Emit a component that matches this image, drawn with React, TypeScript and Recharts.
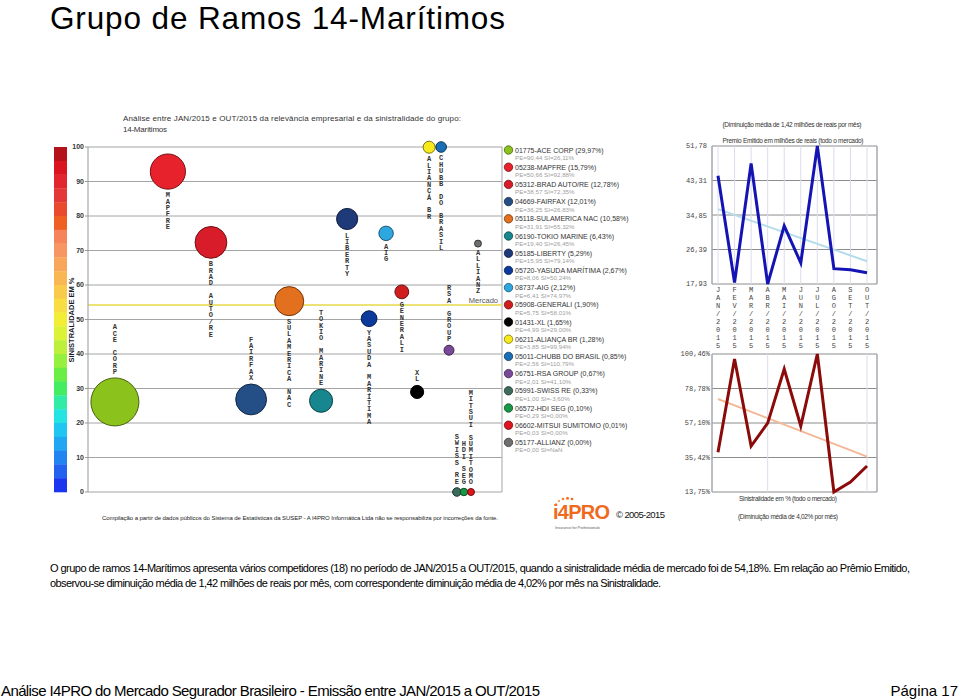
import React from 'react';
import {
  ScatterChart, Scatter, XAxis, YAxis, ZAxis, CartesianGrid, ReferenceLine,
  LineChart, Line,
} from 'recharts';

const SANS = "'Liberation Sans', Arial, Helvetica, sans-serif";
const MONO = "'Liberation Mono', 'Courier New', monospace";

// ---------- Bubble chart data (companies) ----------
const codigos = ['01775', '05238', '05312', '04669', '05118', '06190', '05185', '05720', '08737', '05908', '01431', '06211', '05011', '06751', '05991', '06572', '06602', '05177'];
const empresas = ['ACE CORP', 'MAPFRE', 'BRAD AUTO/RE', 'FAIRFAX', 'SULAMERICA NAC', 'TOKIO MARINE', 'LIBERTY', 'YASUDA MARÍTIMA', 'AIG', 'GENERALI', 'XL', 'ALIANÇA BR', 'CHUBB DO BRASIL', 'RSA GROUP', 'SWISS RE', 'HDI SEG', 'MITSUI SUMITOMO', 'ALLIANZ'];
const participacao = [29.97, 15.79, 12.78, 12.01, 10.58, 6.43, 5.29, 2.67, 2.12, 1.90, 1.65, 1.28, 0.85, 0.67, 0.33, 0.10, 0.01, 0.00];
const premioEmpresa = [90.44, 50.66, 38.57, 36.25, 31.91, 19.40, 15.95, 8.06, 6.41, 5.75, 4.99, 3.85, 2.56, 2.01, 1.00, 0.29, 0.03, 0.00];
const sinistralidadeEmpresa = [26.11, 92.88, 72.35, 26.83, 55.32, 26.45, 79.14, 50.24, 74.97, 58.01, 29.00, 99.94, 110.79, 41.10, -3.60, 0.00, 0.00, NaN];
const ordemX = [6.5, 19.3, 29.7, 39.4, 48.6, 56.3, 62.6, 67.9, 72.0, 75.8, 79.5, 82.4, 85.3, 87.2, 89.1, 90.8, 92.5, 94.2];
const coresEmpresa = ['#8cc21c', '#e8222c', '#d91c2a', '#234e86', '#e2701e', '#17868e', '#1e3a78', '#0c3a9c', '#2ea6e0', '#d01e1e', '#000000', '#f6ea1c', '#1a6eb6', '#7a4898', '#3d6b5c', '#179846', '#e0141e', '#6e6e6e'];
const rotuloAcima = [true, false, false, true, false, true, false, false, false, false, true, false, false, true, true, true, true, false];
const sinistralidadeMercado = 54.18;
const valorSemDado = 72;
const ticksSinistralidade = [0, 10, 20, 30, 40, 50, 60, 70, 80, 90, 100];
const escalaCores = ['#b3121b', '#d9161f', '#e2262f', '#e43838', '#e94a2e', '#ef5f22', '#f5845a', '#f79662', '#f8a75a', '#f8b752', '#f9cb4a', '#f8de42', '#f2ee36', '#dcf236', '#bcf03a', '#96f040', '#68ee44', '#44ec62', '#32eca6', '#24e4e2', '#20c6f2', '#20a6f2', '#2284f0', '#2262ee', '#1a36ee'];

// ---------- Monthly market data ----------
const meses = ['JAN/2015', 'FEV/2015', 'MAR/2015', 'ABR/2015', 'MAI/2015', 'JUN/2015', 'JUL/2015', 'AGO/2015', 'SET/2015', 'OUT/2015'];
const premioMensal = [44.5, 18.3, 47.5, 17.93, 32.2, 23.1, 51.78, 21.7, 21.4, 20.7];
const tendenciaPremio = [36.3, null, null, null, null, null, null, null, null, 23.52];
const ticksPremio = [17.93, 26.39, 34.85, 43.31, 51.78];
const sinistralidadeMensal = [38.7, 97.3, 42.6, 57.0, 91.0, 55.2, 100.46, 13.75, 20.0, 30.1];
const tendenciaSinistralidade = [72.2, null, null, null, null, null, null, null, null, 36.0];
const ticksSinistralidadeMensal = [13.75, 35.42, 57.10, 78.78, 100.46];

const fmt = (v: number) => (Number.isNaN(v) ? 'NaN' : v.toFixed(2).replace('.', ','));

function escurecer(hex: string, f = 0.5) {
  const n = parseInt(hex.slice(1), 16);
  const r = Math.round(((n >> 16) & 255) * f);
  const g = Math.round(((n >> 8) & 255) * f);
  const b = Math.round((n & 255) * f);
  return `rgb(${r},${g},${b})`;
}

const dadosBolhas = empresas.map((nome, i) => {
  const s = sinistralidadeEmpresa[i];
  return {
    nome,
    x: ordemX[i],
    y: Number.isNaN(s) ? valorSemDado : Math.min(100, Math.max(0, s)),
    participacao: participacao[i],
    cor: coresEmpresa[i],
    acima: rotuloAcima[i],
  };
});

const dadosPremio = meses.map((mes, i) => ({ mes, valor: premioMensal[i], tendencia: tendenciaPremio[i] }));
const dadosSinistro = meses.map((mes, i) => ({ mes, valor: sinistralidadeMensal[i], tendencia: tendenciaSinistralidade[i] }));

function Bolha(props: any) {
  const { cx, cy, payload } = props;
  if (!Number.isFinite(cx) || !Number.isFinite(cy)) return <g />;
  const area = Number.isFinite(props.size) ? props.size : 64;
  const r = Math.sqrt(area / Math.PI);
  const chars: string[] = Array.from(String(payload.nome));
  const step = 6.4;
  const start = payload.acima ? cy - r - 4 - (chars.length - 1) * step : cy + r + 8;
  return (
    <g>
      <circle cx={cx} cy={cy} r={r} fill={payload.cor} stroke={escurecer(payload.cor)} strokeWidth={1} />
      {chars.map((c, i) =>
        c === ' ' ? null : (
          <text key={i} x={cx} y={start + i * step} textAnchor="middle" fontFamily={MONO} fontWeight="bold" fontSize={7} fill="#333">
            {c}
          </text>
        ),
      )}
    </g>
  );
}

function TickMes(props: any) {
  const { x, y, payload } = props;
  const chars: string[] = Array.from(String(payload.value));
  return (
    <g>
      {chars.map((c, i) => (
        <text key={i} x={x} y={y + 8 + i * 8} textAnchor="middle" fontFamily={MONO} fontSize={7} fill="#444">
          {c}
        </text>
      ))}
    </g>
  );
}

function MercadoLabel(props: any) {
  const vb = props.viewBox || {};
  return (
    <text x={vb.x + vb.width - 4} y={vb.y - 2} textAnchor="end" fontFamily={SANS} fontSize={7.5} fill="#555">
      Mercado
    </text>
  );
}

export default function App() {
  const barTop = 147;
  const barH = 345 / escalaCores.length;
  return (
    <div style={{ position: 'absolute', left: 0, top: 0, width: 960, height: 700, background: '#fff', overflow: 'hidden' }}>
      <svg width={960} height={700} style={{ position: 'absolute', left: 0, top: 0 }} fontFamily={SANS}>
        <text x={50} y={29} fontSize={31.5} textLength={455} fill="#000">Grupo de Ramos 14-Marítimos</text>

        <text x={123} y={121} fontSize={8} textLength={338} fill="#333">
          Análise entre JAN/2015 e OUT/2015 da relevância empresarial e da sinistralidade do grupo:
        </text>
        <text x={123} y={132} fontSize={8} textLength={44} fill="#333">14-Marítimos</text>

        {escalaCores.map((c, i) => (
          <rect key={i} x={54} y={barTop + i * barH} width={13} height={barH + 0.3} fill={c} />
        ))}
        <text transform="rotate(-90 74 320)" x={74} y={320} textAnchor="middle" fontWeight="bold" fontSize={7.5} fill="#1a1a2a">
          SINISTRALIDADE EM %
        </text>

        <text x={102} y={520} fontSize={6} textLength={396} fill="#222">
          Compilação a partir de dados públicos do Sistema de Estatísticas da SUSEP - A I4PRO Informática Ltda não se responsabiliza por incorreções da fonte.
        </text>

        {empresas.map((nome, i) => {
          const cy = 150 + i * 17.2;
          return (
            <g key={nome}>
              <circle cx={508.5} cy={cy} r={4.2} fill={coresEmpresa[i]} stroke={escurecer(coresEmpresa[i])} strokeWidth={0.8} />
              <text x={515} y={cy + 2.5} fontSize={7} fill="#333">
                {`${codigos[i]}-${nome} (${fmt(participacao[i])}%)`}
              </text>
              <text x={515} y={cy + 10} fontSize={6.2} fill="#a0a0a0">
                {`PE=${fmt(premioEmpresa[i])} SI=${fmt(sinistralidadeEmpresa[i])}${Number.isNaN(sinistralidadeEmpresa[i]) ? '' : '%'}`}
              </text>
            </g>
          );
        })}

        <text x={792} y={127} textAnchor="middle" fontSize={6.5} textLength={139} fill="#333">
          (Diminuição média de 1,42 milhões de reais por mês)
        </text>
        <text x={793} y={143} textAnchor="middle" fontSize={6.5} textLength={141} fill="#333">
          Premio Emitido em milhões de reais (todo o mercado)
        </text>
        <text x={788} y={501} textAnchor="middle" fontSize={6.5} textLength={98} fill="#333">
          Sinistralidade em % (todo o mercado)
        </text>
        <text x={788} y={519} textAnchor="middle" fontSize={6.5} textLength={100} fill="#333">
          (Diminuição média de 4,02% por mês)
        </text>

        <circle cx={556} cy={504} r={0.9} fill="#f7a04a" />
        <circle cx={559} cy={501} r={1.1} fill="#f5923c" />
        <circle cx={563} cy={499} r={1.3} fill="#f3842e" />
        <circle cx={567.5} cy={498.3} r={1.5} fill="#f17424" />
        <circle cx={572} cy={499} r={1.3} fill="#f06a1e" />
        <text x={553} y={519} fontSize={20} fontWeight={900} textLength={57} fill="#f06a1e">i4PRO</text>
        <text x={555} y={528.5} fontSize={4} textLength={45} fill="#666">Insurance for Professionals</text>
        <text x={616} y={518} fontSize={9.5} textLength={49} fill="#111">© 2005-2015</text>

        <text x={50} y={572} fontSize={11} textLength={860} fill="#000">
          O grupo de ramos 14-Marítimos apresenta vários competidores (18) no período de JAN/2015 a OUT/2015, quando a sinistralidade média de mercado foi de 54,18%. Em relação ao Prêmio Emitido,
        </text>
        <text x={50} y={587} fontSize={11} textLength={611} fill="#000">
          observou-se diminuição média de 1,42 milhões de reais por mês, com correspondente diminuição média de 4,02% por mês na Sinistralidade.
        </text>

        <text x={1} y={696} fontSize={15} textLength={539} fill="#000">
          Análise I4PRO do Mercado Segurador Brasileiro - Emissão entre JAN/2015 a OUT/2015
        </text>
        <text x={958} y={696} fontSize={15} textAnchor="end" fill="#000">Página 17</text>
      </svg>

      <div style={{ position: 'absolute', left: 0, top: 0 }}>
        <ScatterChart width={520} height={540} margin={{ top: 147, right: 18, bottom: 48, left: 48 }}>
          <CartesianGrid horizontal vertical={false} stroke="#a4a4a4" />
          <XAxis type="number" dataKey="x" domain={[0, 100]} hide />
          <YAxis
            type="number"
            dataKey="y"
            domain={[0, 100]}
            ticks={ticksSinistralidade}
            interval={0}
            width={40}
            tickSize={3}
            tickMargin={1}
            axisLine={{ stroke: '#999' }}
            tickLine={{ stroke: '#999' }}
            tick={{ fontSize: 7, fontWeight: 'bold', fill: '#333', fontFamily: SANS }}
          />
          <ZAxis type="number" dataKey="participacao" domain={[0, 29.97]} range={[38, 1810]} />
          <ReferenceLine x={100} stroke="#a4a4a4" />
          <ReferenceLine y={sinistralidadeMercado} stroke="#ece276" strokeWidth={2} label={<MercadoLabel />} />
          <Scatter data={dadosBolhas} shape={<Bolha />} isAnimationActive={false} />
        </ScatterChart>
      </div>

      <div style={{ position: 'absolute', left: 660, top: 100 }}>
        <LineChart width={230} height={260} data={dadosPremio} margin={{ top: 46, right: 12, bottom: 10, left: 6 }}>
          <CartesianGrid stroke="#8c8c8c" vertical={false} />
          <CartesianGrid stroke="#dcdcee" horizontal={false} />
          <XAxis
            dataKey="mes"
            padding={{ left: 6, right: 10 }}
            interval={0}
            height={66}
            tickSize={0}
            tickMargin={0}
            axisLine={false}
            tickLine={false}
            tick={<TickMes />}
          />
          <YAxis
            domain={[17.93, 51.78]}
            ticks={ticksPremio}
            interval={0}
            width={46}
            tickSize={0}
            tickMargin={5}
            tickLine={false}
            axisLine={{ stroke: '#8c8c8c' }}
            tickFormatter={(v: number) => fmt(v)}
            tick={{ fontSize: 7, fill: '#444', fontFamily: MONO }}
          />
          <YAxis yAxisId="r" orientation="right" width={1} tick={false} tickLine={false} axisLine={{ stroke: '#8c8c8c' }} />
          <Line dataKey="tendencia" stroke="#b4dcea" strokeWidth={2} dot={false} connectNulls isAnimationActive={false} />
          <Line dataKey="valor" stroke="#1414b4" strokeWidth={3} dot={false} isAnimationActive={false} />
        </LineChart>
      </div>

      <div style={{ position: 'absolute', left: 660, top: 340 }}>
        <LineChart width={230} height={160} data={dadosSinistro} margin={{ top: 14, right: 12, bottom: 8, left: 6 }}>
          <CartesianGrid stroke="#8c8c8c" vertical={false} />
          <CartesianGrid stroke="#dcdcee" horizontal={false} />
          <XAxis dataKey="mes" padding={{ left: 6, right: 10 }} hide />
          <YAxis
            domain={[13.75, 100.46]}
            ticks={ticksSinistralidadeMensal}
            interval={0}
            width={46}
            tickSize={0}
            tickMargin={2}
            tickLine={false}
            axisLine={{ stroke: '#8c8c8c' }}
            tickFormatter={(v: number) => `${fmt(v)}%`}
            tick={{ fontSize: 7, fill: '#444', fontFamily: MONO }}
          />
          <YAxis yAxisId="r" orientation="right" width={1} tick={false} tickLine={false} axisLine={{ stroke: '#8c8c8c' }} />
          <Line dataKey="tendencia" stroke="#f4b896" strokeWidth={2} dot={false} connectNulls isAnimationActive={false} />
          <Line dataKey="valor" stroke="#8b0a0a" strokeWidth={3} dot={false} isAnimationActive={false} />
        </LineChart>
      </div>
    </div>
  );
}
